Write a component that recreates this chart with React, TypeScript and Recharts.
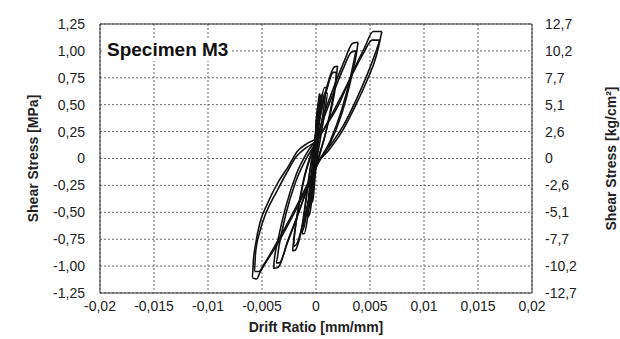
import { LineChart, Line, XAxis, YAxis, CartesianGrid, ReferenceLine, Label } from 'recharts'

type Pt = { x: number; y: number }

const xTicks = [-0.02, -0.015, -0.01, -0.005, 0, 0.005, 0.01, 0.015, 0.02]
const xTickLabels = ['-0,02', '-0,015', '-0,01', '-0,005', '0', '0,005', '0,01', '0,015', '0,02']
const yTicks = [-1.25, -1, -0.75, -0.5, -0.25, 0, 0.25, 0.5, 0.75, 1, 1.25]
const yTickLabels = ['-1,25', '-1,00', '-0,75', '-0,50', '-0,25', '0', '0,25', '0,50', '0,75', '1,00', '1,25']
const kgTickLabels = ['-12,7', '-10,2', '-7,7', '-5,1', '-2,6', '0', '2,6', '5,1', '7,7', '10,2', '12,7']

// cycles, drift [mm/mm] vs stress [MPa]
const cycle0: Pt[] = [
  { x: 0, y: 0.1 }, { x: 0.0001, y: 0.3 }, { x: 0.0002, y: 0.45 }, { x: 0.0001, y: 0.42 },
  { x: 0, y: 0.25 }, { x: -0.0001, y: 0.05 }, { x: -0.0002, y: -0.15 }, { x: -0.0003, y: -0.3 },
  { x: -0.0002, y: -0.28 }, { x: -0.0001, y: -0.1 }, { x: 0, y: 0.1 },
]
const cycle0b: Pt[] = [
  { x: 0.0001, y: 0.0 }, { x: 0.0002, y: 0.25 }, { x: 0.0004, y: 0.6 }, { x: 0.0003, y: 0.6 },
  { x: 0.0001, y: 0.35 }, { x: -0.0001, y: 0.1 }, { x: -0.0002, y: -0.2 }, { x: -0.0004, y: -0.4 },
  { x: -0.0003, y: -0.4 }, { x: -0.0001, y: -0.18 }, { x: 0.0001, y: 0.0 },
]
const cycle1: Pt[] = [
  { x: 0, y: 0.05 }, { x: 0.0001, y: 0.2 }, { x: 0.0003, y: 0.38 }, { x: 0.0004, y: 0.55 },
  { x: 0.0002, y: 0.5 }, { x: 0, y: 0.3 }, { x: -0.0001, y: 0.12 }, { x: -0.0003, y: -0.1 },
  { x: -0.0005, y: -0.3 }, { x: -0.0006, y: -0.45 }, { x: -0.0004, y: -0.4 }, { x: -0.0002, y: -0.2 },
  { x: 0, y: 0.05 },
]
const cycle1b: Pt[] = [
  { x: -0.0001, y: 0.0 }, { x: 0.0001, y: 0.22 }, { x: 0.0004, y: 0.45 }, { x: 0.0006, y: 0.6 },
  { x: 0.0004, y: 0.57 }, { x: 0.0001, y: 0.36 }, { x: -0.0001, y: 0.15 }, { x: -0.0004, y: -0.12 },
  { x: -0.0007, y: -0.38 }, { x: -0.0008, y: -0.55 }, { x: -0.0006, y: -0.52 }, { x: -0.0003, y: -0.28 },
  { x: -0.0001, y: 0.0 },
]
const cycle2: Pt[] = [
  { x: 0, y: 0 }, { x: 0.0003, y: 0.2 }, { x: 0.0007, y: 0.45 }, { x: 0.001, y: 0.66 },
  { x: 0.0008, y: 0.66 }, { x: 0.0004, y: 0.5 }, { x: 0.0001, y: 0.3 }, { x: -0.0002, y: 0.1 },
  { x: -0.0006, y: -0.15 }, { x: -0.001, y: -0.45 }, { x: -0.0013, y: -0.7 }, { x: -0.0011, y: -0.7 },
  { x: -0.0007, y: -0.5 }, { x: -0.0003, y: -0.25 }, { x: 0, y: 0 },
]
const cycle2b: Pt[] = [
  { x: 0, y: -0.05 }, { x: 0.0004, y: 0.18 }, { x: 0.0008, y: 0.42 }, { x: 0.0011, y: 0.6 },
  { x: 0.0009, y: 0.62 }, { x: 0.0005, y: 0.48 }, { x: 0.0001, y: 0.25 }, { x: -0.0003, y: 0.05 },
  { x: -0.0007, y: -0.2 }, { x: -0.0011, y: -0.5 }, { x: -0.0014, y: -0.66 }, { x: -0.0012, y: -0.66 },
  { x: -0.0008, y: -0.46 }, { x: -0.0004, y: -0.22 }, { x: 0, y: -0.05 },
]
const cycle3: Pt[] = [
  { x: 0.002, y: 0.86 }, { x: 0.0017, y: 0.85 }, { x: 0.0011, y: 0.7 }, { x: 0.0005, y: 0.45 },
  { x: 0.0001, y: 0.22 }, { x: -0.0004, y: 0.05 }, { x: -0.001, y: -0.15 }, { x: -0.0016, y: -0.45 },
  { x: -0.002, y: -0.7 }, { x: -0.0022, y: -0.86 }, { x: -0.0019, y: -0.85 }, { x: -0.0013, y: -0.65 },
  { x: -0.0007, y: -0.4 }, { x: -0.0002, y: -0.15 }, { x: 0.0002, y: 0 }, { x: 0.0008, y: 0.2 },
  { x: 0.0014, y: 0.48 }, { x: 0.0018, y: 0.7 }, { x: 0.002, y: 0.86 },
]
const cycle3b: Pt[] = [
  { x: 0.0019, y: 0.8 }, { x: 0.0016, y: 0.8 }, { x: 0.001, y: 0.64 }, { x: 0.0004, y: 0.4 },
  { x: 0, y: 0.18 }, { x: -0.0006, y: 0 }, { x: -0.0012, y: -0.22 }, { x: -0.0017, y: -0.5 },
  { x: -0.002, y: -0.72 }, { x: -0.0021, y: -0.82 }, { x: -0.0018, y: -0.8 }, { x: -0.0012, y: -0.6 },
  { x: -0.0006, y: -0.36 }, { x: -0.0001, y: -0.12 }, { x: 0.0003, y: 0.02 }, { x: 0.0009, y: 0.24 },
  { x: 0.0015, y: 0.5 }, { x: 0.0018, y: 0.68 }, { x: 0.0019, y: 0.8 },
]
const cycle4: Pt[] = [
  { x: 0.0039, y: 1.08 }, { x: 0.0034, y: 1.07 }, { x: 0.0026, y: 0.9 }, { x: 0.0016, y: 0.65 },
  { x: 0.0007, y: 0.4 }, { x: 0.0001, y: 0.2 }, { x: -0.0008, y: 0.06 }, { x: -0.0018, y: -0.14 },
  { x: -0.0028, y: -0.45 }, { x: -0.0035, y: -0.75 }, { x: -0.0039, y: -0.98 }, { x: -0.0039, y: -1.02 },
  { x: -0.0035, y: -1.01 }, { x: -0.0027, y: -0.8 }, { x: -0.0017, y: -0.53 }, { x: -0.0007, y: -0.25 },
  { x: 0.0001, y: -0.06 }, { x: 0.0012, y: 0.12 }, { x: 0.0024, y: 0.42 }, { x: 0.0032, y: 0.72 },
  { x: 0.0037, y: 0.95 }, { x: 0.0039, y: 1.08 },
]
const cycle4b: Pt[] = [
  { x: 0.0037, y: 1.0 }, { x: 0.0033, y: 0.99 }, { x: 0.0025, y: 0.83 }, { x: 0.0015, y: 0.58 },
  { x: 0.0006, y: 0.34 }, { x: 0, y: 0.16 }, { x: -0.0009, y: 0 }, { x: -0.0019, y: -0.22 },
  { x: -0.0028, y: -0.52 }, { x: -0.0034, y: -0.8 }, { x: -0.0037, y: -0.97 }, { x: -0.0034, y: -0.97 },
  { x: -0.0026, y: -0.76 }, { x: -0.0016, y: -0.5 }, { x: -0.0006, y: -0.22 }, { x: 0.0002, y: -0.04 },
  { x: 0.0013, y: 0.16 }, { x: 0.0024, y: 0.46 }, { x: 0.0032, y: 0.76 }, { x: 0.0037, y: 1.0 },
]
const cycle5: Pt[] = [
  { x: 0.0061, y: 1.18 }, { x: 0.0053, y: 1.18 }, { x: 0.0045, y: 1.03 }, { x: 0.0033, y: 0.78 },
  { x: 0.0021, y: 0.5 }, { x: 0.0009, y: 0.3 }, { x: 0.0002, y: 0.2 }, { x: -0.0008, y: 0.14 },
  { x: -0.0017, y: 0.07 }, { x: -0.0026, y: -0.08 }, { x: -0.0035, y: -0.22 }, { x: -0.0045, y: -0.42 },
  { x: -0.0052, y: -0.6 }, { x: -0.0056, y: -0.8 }, { x: -0.0058, y: -0.95 }, { x: -0.0059, y: -1.11 },
  { x: -0.0055, y: -1.12 }, { x: -0.0052, y: -1.06 }, { x: -0.0036, y: -0.8 }, { x: -0.0024, y: -0.58 },
  { x: -0.0008, y: -0.26 }, { x: 0.0001, y: -0.05 }, { x: 0.0012, y: 0.08 }, { x: 0.0024, y: 0.25 },
  { x: 0.0036, y: 0.48 }, { x: 0.0047, y: 0.72 }, { x: 0.0056, y: 0.96 }, { x: 0.0061, y: 1.18 },
]
const cycle5b: Pt[] = [
  { x: 0.0059, y: 1.1 }, { x: 0.0052, y: 1.1 }, { x: 0.0044, y: 0.98 }, { x: 0.0034, y: 0.79 },
  { x: 0.0023, y: 0.57 }, { x: 0.0011, y: 0.34 }, { x: 0.0001, y: 0.17 }, { x: -0.0009, y: 0.1 },
  { x: -0.0018, y: 0.02 }, { x: -0.0027, y: -0.13 }, { x: -0.0036, y: -0.3 }, { x: -0.0046, y: -0.5 },
  { x: -0.0052, y: -0.68 }, { x: -0.0056, y: -0.88 }, { x: -0.0057, y: -1.05 }, { x: -0.0053, y: -1.05 },
  { x: -0.0048, y: -0.98 }, { x: -0.0034, y: -0.74 }, { x: -0.0022, y: -0.52 }, { x: -0.0007, y: -0.22 },
  { x: 0.0002, y: -0.03 }, { x: 0.0013, y: 0.12 }, { x: 0.0025, y: 0.3 }, { x: 0.0037, y: 0.54 },
  { x: 0.0047, y: 0.77 }, { x: 0.0055, y: 0.98 }, { x: 0.0059, y: 1.1 },
]

const cycles = [cycle0, cycle0b, cycle1, cycle1b, cycle2, cycle2b, cycle3, cycle3b, cycle4, cycle4b, cycle5, cycle5b]

const font = 'Arial, "Liberation Sans", Helvetica, sans-serif'
const tickStyle = { fontSize: 14, fill: '#222', fontFamily: font }
const titleStyle = { fontSize: 14, fontWeight: 'bold', fill: '#222', fontFamily: font }

export default function App() {
  return (
    <div style={{ position: 'absolute', left: 0, top: 0, width: 620, height: 339, background: '#fff' }}>
      <LineChart width={620} height={339} margin={{ top: 24, right: 0, bottom: 0, left: 0 }}>
        <CartesianGrid stroke="#666" strokeDasharray="2 2" />
        <XAxis
          type="number"
          dataKey="x"
          domain={[-0.02, 0.02]}
          ticks={xTicks}
          tickFormatter={(v: number) => xTickLabels[xTicks.indexOf(v)] ?? String(v)}
          tickLine={false}
          tickMargin={2}
          axisLine={{ stroke: '#333' }}
          tick={tickStyle}
          height={46}
          allowDataOverflow
        >
          <Label value="Drift Ratio [mm/mm]" position="center" dy={11} style={titleStyle} />
        </XAxis>
        <YAxis
          type="number"
          domain={[-1.25, 1.25]}
          ticks={yTicks}
          tickFormatter={(v: number) => yTickLabels[yTicks.indexOf(v)] ?? String(v)}
          tickLine={false}
          tickMargin={9}
          axisLine={{ stroke: '#333' }}
          tick={tickStyle}
          width={100}
          allowDataOverflow
        >
          <Label value="Shear Stress [MPa]" position="center" angle={-90} dx={-17} style={titleStyle} />
        </YAxis>
        <YAxis
          yAxisId="right"
          orientation="right"
          type="number"
          domain={[-1.25, 1.25]}
          ticks={yTicks}
          tickFormatter={(v: number) => kgTickLabels[yTicks.indexOf(v)] ?? String(v)}
          tickLine={false}
          tickMargin={7}
          axisLine={{ stroke: '#333' }}
          tick={tickStyle}
          width={88}
          allowDataOverflow
        >
          <Label value="Shear Stress [kg/cm²]" position="center" angle={-90} dx={35} style={titleStyle} />
        </YAxis>
        <ReferenceLine y={1.25} stroke="#333" />
        {cycles.map((c, i) => (
          <Line
            key={i}
            data={c}
            dataKey="y"
            type="monotone"
            stroke="#111"
            strokeWidth={1.6}
            dot={false}
            isAnimationActive={false}
          />
        ))}
        <Line
          yAxisId="right"
          data={cycle1}
          dataKey="y"
          type="monotone"
          stroke="#111"
          strokeWidth={1.6}
          dot={false}
          isAnimationActive={false}
        />
      </LineChart>
      <div
        style={{
          position: 'absolute',
          left: 104,
          top: 39,
          padding: '0 3px',
          background: '#fff',
          fontFamily: font,
          fontWeight: 'bold',
          fontSize: 19,
          lineHeight: '22px',
          color: '#111',
        }}
      >
        Specimen M3
      </div>
    </div>
  )
}
